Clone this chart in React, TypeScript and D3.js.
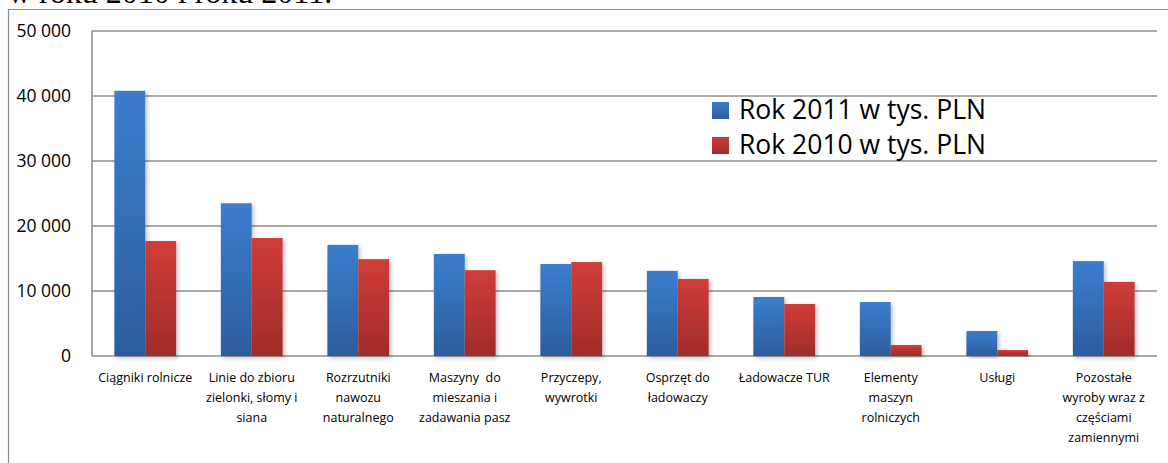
import React from 'react';
import * as d3 from 'd3';

const categories = [
  'Ciągniki rolnicze',
  'Linie do zbioru\nzielonki, słomy i\nsiana',
  'Rozrzutniki\nnawozu\nnaturalnego',
  'Maszyny  do\nmieszania i\nzadawania pasz',
  'Przyczepy,\nwywrotki',
  'Osprzęt do\nładowaczy',
  'Ładowacze TUR',
  'Elementy\nmaszyn\nrolniczych',
  'Usługi',
  'Pozostałe\nwyroby wraz z\nczęściami\nzamiennymi',
];
const rok2011 = [40800, 23500, 17100, 15700, 14150, 13100, 9080, 8300, 3850, 14600];
const rok2010 = [17700, 18150, 14900, 13200, 14450, 11850, 8000, 1700, 920, 11400];
const yTicks = [0, 10000, 20000, 30000, 40000, 50000];
const seriesNames = ['Rok 2011 w tys. PLN', 'Rok 2010 w tys. PLN'];

const W = 1168;
const H = 463;
const plot = { left: 92, right: 1157, top: 31, bottom: 356 };

export default function App() {
  const x = d3.scaleBand<number>()
    .domain(d3.range(categories.length))
    .range([plot.left, plot.right])
    .paddingInner(0.42)
    .paddingOuter(0.21);
  const sub = d3.scaleBand<number>().domain([0, 1]).range([0, x.bandwidth()]);
  const y = d3.scaleLinear().domain([0, 50000]).range([plot.bottom, plot.top]);
  const fmt = (v: number) => d3.format(',')(v).replace(/,/g, ' ');
  const series = [rok2011, rok2010];
  const fills = ['url(#gBlue)', 'url(#gRed)'];
  const font = '"Open Sans", sans-serif';

  return (
    <div style={{ position: 'absolute', left: 0, top: 0 }}>
      <svg width={W} height={H} style={{ display: 'block' }}>
        <defs>
          <linearGradient id="gBlue" x1="0" y1="0" x2="0" y2="1">
            <stop offset="0" stopColor="#3b7ecd" />
            <stop offset="1" stopColor="#2c5d9d" />
          </linearGradient>
          <linearGradient id="gRed" x1="0" y1="0" x2="0" y2="1">
            <stop offset="0" stopColor="#d03c38" />
            <stop offset="1" stopColor="#9f2c2a" />
          </linearGradient>
          <filter id="shadow" x="-20%" y="-5%" width="150%" height="115%">
            <feGaussianBlur in="SourceAlpha" stdDeviation="2" />
            <feOffset dx="2" dy="2" result="b" />
            <feComponentTransfer><feFuncA type="linear" slope="0.25" /></feComponentTransfer>
            <feMerge><feMergeNode /><feMergeNode in="SourceGraphic" /></feMerge>
          </filter>
        </defs>
        <rect x={0} y={0} width={W} height={H} fill="#fff" />
        <text x={8} y={3} fontFamily='"Liberation Serif", serif' fontSize={32} fill="#000">
          w roku 2010 i roku 2011.
        </text>
        {/* outer frame */}
        <path d={`M8.5,${H}V9.5H${W}`} fill="none" stroke="#8a8a8a" strokeWidth={1.2} />

        {yTicks.map(t => (
          <g key={t}>
            <line x1={plot.left} x2={plot.right} y1={y(t)} y2={y(t)} stroke="#8e8e8e" strokeWidth={1.6} />
            <text x={71} y={y(t) + 6} textAnchor="end" fontFamily={font} fontSize={17.5} fill="#000">
              {fmt(t)}
            </text>
          </g>
        ))}
        <line x1={plot.left} x2={plot.left} y1={plot.top} y2={plot.bottom} stroke="#8e8e8e" strokeWidth={1.6} />

        {categories.map((c, i) => (
          <g key={c}>
            {series.map((s, k) => (
              <rect key={k}
                x={(x(i) as number) + (sub(k) as number)}
                y={y(s[i])}
                width={sub.bandwidth()}
                height={plot.bottom - y(s[i])}
                fill={fills[k]}
                filter="url(#shadow)" />
            ))}
            <text textAnchor="middle" fontFamily={font} fontSize={12.5} fill="#000">
              {c.split('\n').map((ln, j) => (
                <tspan key={j} x={(x(i) as number) + x.bandwidth() / 2} y={382 + j * 20} style={{ whiteSpace: 'pre' }}>{ln}</tspan>
              ))}
            </text>
          </g>
        ))}

        {seriesNames.map((n, k) => (
          <g key={n}>
            <rect x={712} y={102 + k * 35} width={17} height={17} fill={fills[k]} />
            <text x={739} y={119 + k * 35} fontFamily={font} fontSize={26.5} fill="#000">{n}</text>
          </g>
        ))}
      </svg>
    </div>
  );
}
